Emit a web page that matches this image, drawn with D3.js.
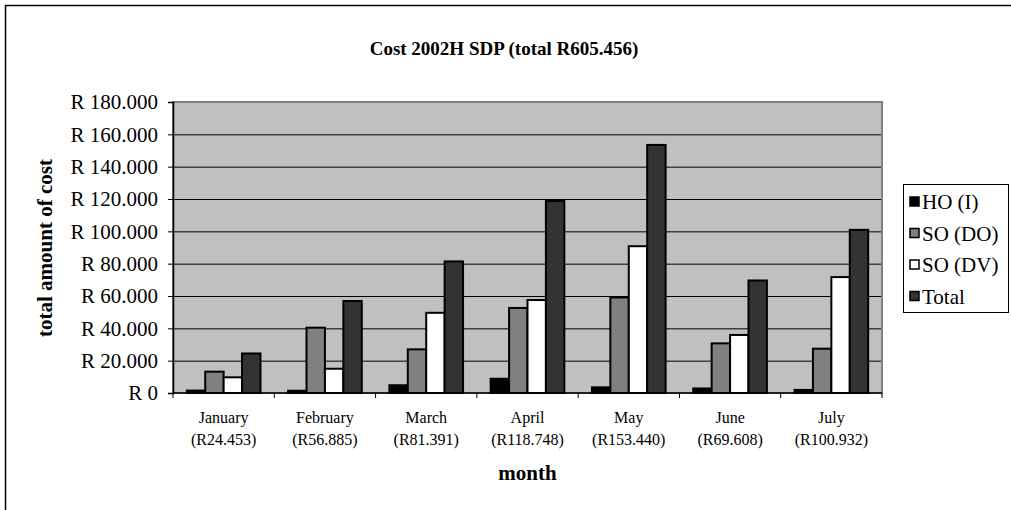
<!DOCTYPE html>
<html>
<head>
<meta charset="utf-8">
<script src="https://cdn.jsdelivr.net/npm/d3@7"></script>
<style>
    body { margin: 0; background: #fff; }
    svg { display: block; }
    svg text { font-family: "Liberation Serif", "Times New Roman", serif; fill: #000; }
</style>
</head>
<body>
<svg width="1011" height="510"></svg>
<script>
// data
const months = ["January", "February", "March", "April", "May", "June", "July"];
const monthTotals = ["(R24.453)", "(R56.885)", "(R81.391)", "(R118.748)", "(R153.440)", "(R69.608)", "(R100.932)"];
const seriesNames = ["HO (I)", "SO (DO)", "SO (DV)", "Total"];
const hoI = [1.5, 1.4, 4.8, 8.8, 3.5, 2.8, 1.9];
const soDO = [13.2, 40.4, 27.0, 52.6, 59.1, 30.7, 27.4];
const soDV = [9.7, 15.0, 49.6, 57.5, 90.8, 35.9, 71.7];
const total = [24.453, 56.885, 81.391, 118.748, 153.44, 69.608, 100.932];
const yTicks = [0, 20, 40, 60, 80, 100, 120, 140, 160, 180];

const colors = ["#000000", "#808080", "#ffffff", "#333333"];

function draw() {
    let svg = d3.select("svg");
    let margin = {top: 102, left: 173, right: 129, bottom: 117};
    let width = 1011 - margin.left - margin.right;
    let height = 510 - margin.top - margin.bottom;

    // outer chart border (runs off the right/bottom edge in the picture)
    svg.append("rect")
        .attr("x", 5.5).attr("y", 5.5)
        .attr("width", 1020).attr("height", 520)
        .attr("fill", "none").attr("stroke", "#000").attr("stroke-width", 1.5);

    svg.append("text")
        .attr("x", 504).attr("y", 55)
        .attr("text-anchor", "middle")
        .attr("font-weight", "bold")
        .attr("font-size", 19)
        .text("Cost 2002H SDP (total R605.456)");

    let g = svg.append("g").attr("transform", `translate(${margin.left},${margin.top})`);

    let x0 = d3.scaleBand().domain(months).range([0, width]).paddingInner(0).paddingOuter(0);
    let barW = x0.bandwidth() / 5.5;
    let x1 = d3.scaleBand().domain(seriesNames).range([0, barW * 4]);
    let y = d3.scaleLinear().domain([0, 180]).range([height, 0]);

    g.append("rect")
        .attr("width", width).attr("height", height)
        .attr("fill", "#c0c0c0");

    // gridlines
    g.append("g")
        .call(d3.axisLeft(y).tickValues(yTicks.slice(1)).tickSize(-width).tickFormat(""))
        .call(a => a.select(".domain").remove())
        .selectAll("line").attr("stroke", "#000").attr("stroke-width", 1);

    g.append("rect")
        .attr("width", width).attr("height", height)
        .attr("fill", "none").attr("stroke", "#808080").attr("stroke-width", 2);

    let rows = months.map((m, i) => ({month: m, vals: [hoI[i], soDO[i], soDV[i], total[i]]}));

    g.selectAll(".grp")
        .data(rows)
        .enter().append("g")
        .attr("transform", d => `translate(${x0(d.month) + (x0.bandwidth() - barW * 4) / 2},0)`)
        .selectAll("rect")
        .data(d => d.vals.map((v, k) => ({name: seriesNames[k], v: v, k: k})))
        .enter().append("rect")
        .attr("x", d => x1(d.name))
        .attr("y", d => y(d.v))
        .attr("width", x1.bandwidth())
        .attr("height", d => height - y(d.v))
        .attr("fill", d => colors[d.k])
        .attr("stroke", "#000")
        .attr("stroke-width", 2);

    // y axis
    let yAxis = g.append("g")
        .call(d3.axisLeft(y).tickValues(yTicks).tickSize(5).tickPadding(10)
            .tickFormat(d => d === 0 ? "R 0" : "R " + d + ".000"));
    yAxis.select(".domain").attr("stroke", "#000").attr("stroke-width", 1.5);
    yAxis.selectAll("text").attr("font-size", 21).attr("font-family", "Liberation Serif").attr("fill", "#000");

    // x axis: ticks between the categories
    let xAxis = g.append("g").attr("transform", `translate(0,${height})`);
    xAxis.append("line").attr("x1", 0).attr("x2", width).attr("stroke", "#000").attr("stroke-width", 1.5);
    xAxis.selectAll(".tk")
        .data(months.concat(["end"]))
        .enter().append("line")
        .attr("x1", (d, i) => i < months.length ? x0(d) : width)
        .attr("x2", (d, i) => i < months.length ? x0(d) : width)
        .attr("y1", 0).attr("y2", 5)
        .attr("stroke", "#000");

    let lbl = xAxis.selectAll(".lbl")
        .data(months)
        .enter().append("text")
        .attr("text-anchor", "middle")
        .attr("font-size", 16);
    lbl.append("tspan")
        .attr("x", d => x0(d) + x0.bandwidth() / 2)
        .attr("y", 30)
        .text(d => d);
    lbl.append("tspan")
        .attr("x", d => x0(d) + x0.bandwidth() / 2)
        .attr("y", 52)
        .text((d, i) => monthTotals[i]);

    svg.append("text")
        .attr("x", margin.left + width / 2).attr("y", 480)
        .attr("text-anchor", "middle")
        .attr("font-weight", "bold").attr("font-size", 21)
        .text("month");

    svg.append("text")
        .attr("transform", "translate(52,248) rotate(-90)")
        .attr("text-anchor", "middle")
        .attr("font-weight", "bold").attr("font-size", 21)
        .text("total amount of cost");

    // legend
    let lg = svg.append("g").attr("transform", "translate(903,184)");
    lg.append("rect")
        .attr("x", 0.5).attr("y", 0.5).attr("width", 105).attr("height", 128)
        .attr("fill", "#fff").attr("stroke", "#000");
    let item = lg.selectAll(".it")
        .data(seriesNames)
        .enter().append("g")
        .attr("transform", (d, i) => `translate(7,${18 + i * 31.5})`);
    item.append("rect")
        .attr("x", 0).attr("y", -5).attr("width", 9).attr("height", 9)
        .attr("fill", (d, i) => colors[i])
        .attr("stroke", "#000").attr("stroke-width", 1.5);
    item.append("text")
        .attr("x", 12).attr("y", 7)
        .attr("font-size", 21)
        .text(d => d);
}

draw();
</script>
</body>
</html>
